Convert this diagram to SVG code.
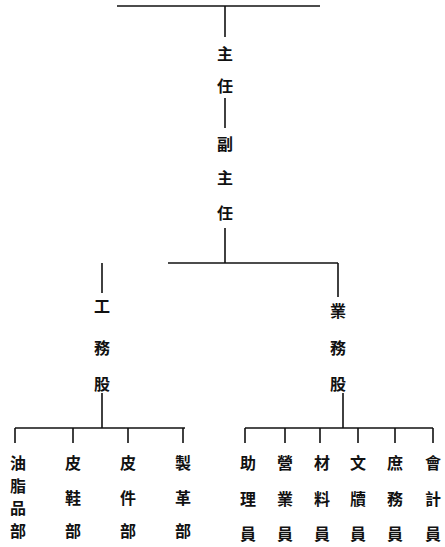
<svg xmlns="http://www.w3.org/2000/svg" width="445" height="547" viewBox="0 0 445 547">
<style>
text{font-family:"Noto Sans CJK TC","Noto Sans CJK SC",sans-serif;font-size:16px;font-weight:bold;fill:#111;text-anchor:middle;dominant-baseline:central}
.c line{stroke:#111;stroke-width:1.6;fill:none}
</style>
<rect width="445" height="547" fill="#fff"/>
<g class="c" id="connectors">
<line x1="117" y1="6" x2="320" y2="6"/>
<line x1="225" y1="6" x2="225" y2="37"/>
<line x1="225" y1="98" x2="225" y2="128"/>
<line x1="225" y1="228" x2="225" y2="263"/>
<line x1="168" y1="263" x2="338" y2="263"/>
<line x1="338" y1="263" x2="338" y2="297"/>
<line x1="102" y1="263" x2="102" y2="293"/>
<line x1="102" y1="393" x2="102" y2="428"/>
<line x1="15" y1="428" x2="185" y2="428"/>
<line x1="15" y1="428" x2="15" y2="443"/>
<line x1="73" y1="428" x2="73" y2="443"/>
<line x1="128" y1="428" x2="128" y2="443"/>
<line x1="183" y1="428" x2="183" y2="443"/>
<line x1="343" y1="393" x2="343" y2="428"/>
<line x1="245" y1="428" x2="433" y2="428"/>
<line x1="245" y1="428" x2="245" y2="443"/>
<line x1="285" y1="428" x2="285" y2="443"/>
<line x1="320" y1="428" x2="320" y2="443"/>
<line x1="358" y1="428" x2="358" y2="443"/>
<line x1="395" y1="428" x2="395" y2="443"/>
<line x1="433" y1="428" x2="433" y2="443"/>
</g>
<g id="zhuren"><text x="225" y="53">主</text><text x="225" y="85">任</text></g>
<g id="fuzhuren"><text x="225" y="143">副</text><text x="225" y="177">主</text><text x="225" y="212">任</text></g>
<g id="gongwugu"><text x="102" y="305">工</text><text x="102" y="347">務</text><text x="102" y="383">股</text></g>
<g id="yewugu"><text x="338" y="310">業</text><text x="338" y="347">務</text><text x="338" y="383">股</text></g>
<g id="youzhipinbu"><text x="18" y="462">油</text><text x="18" y="485">脂</text><text x="18" y="507">品</text><text x="18" y="530">部</text></g>
<g id="pixiebu"><text x="73" y="462">皮</text><text x="73" y="497">鞋</text><text x="73" y="530">部</text></g>
<g id="pijianbu"><text x="128" y="462">皮</text><text x="128" y="497">件</text><text x="128" y="530">部</text></g>
<g id="zhigebu"><text x="183" y="462">製</text><text x="183" y="497">革</text><text x="183" y="530">部</text></g>
<g id="zhuliyuan"><text x="248" y="462">助</text><text x="248" y="498">理</text><text x="248" y="533">員</text></g>
<g id="yingyeyuan"><text x="285" y="462">營</text><text x="285" y="498">業</text><text x="285" y="533">員</text></g>
<g id="cailiaoyuan"><text x="322" y="462">材</text><text x="322" y="498">料</text><text x="322" y="533">員</text></g>
<g id="wenduyuan"><text x="358" y="462">文</text><text x="358" y="498">牘</text><text x="358" y="533">員</text></g>
<g id="shuwuyuan"><text x="395" y="462">庶</text><text x="395" y="498">務</text><text x="395" y="533">員</text></g>
<g id="kuaijiyuan"><text x="433" y="462">會</text><text x="433" y="498">計</text><text x="433" y="533">員</text></g>
</svg>
